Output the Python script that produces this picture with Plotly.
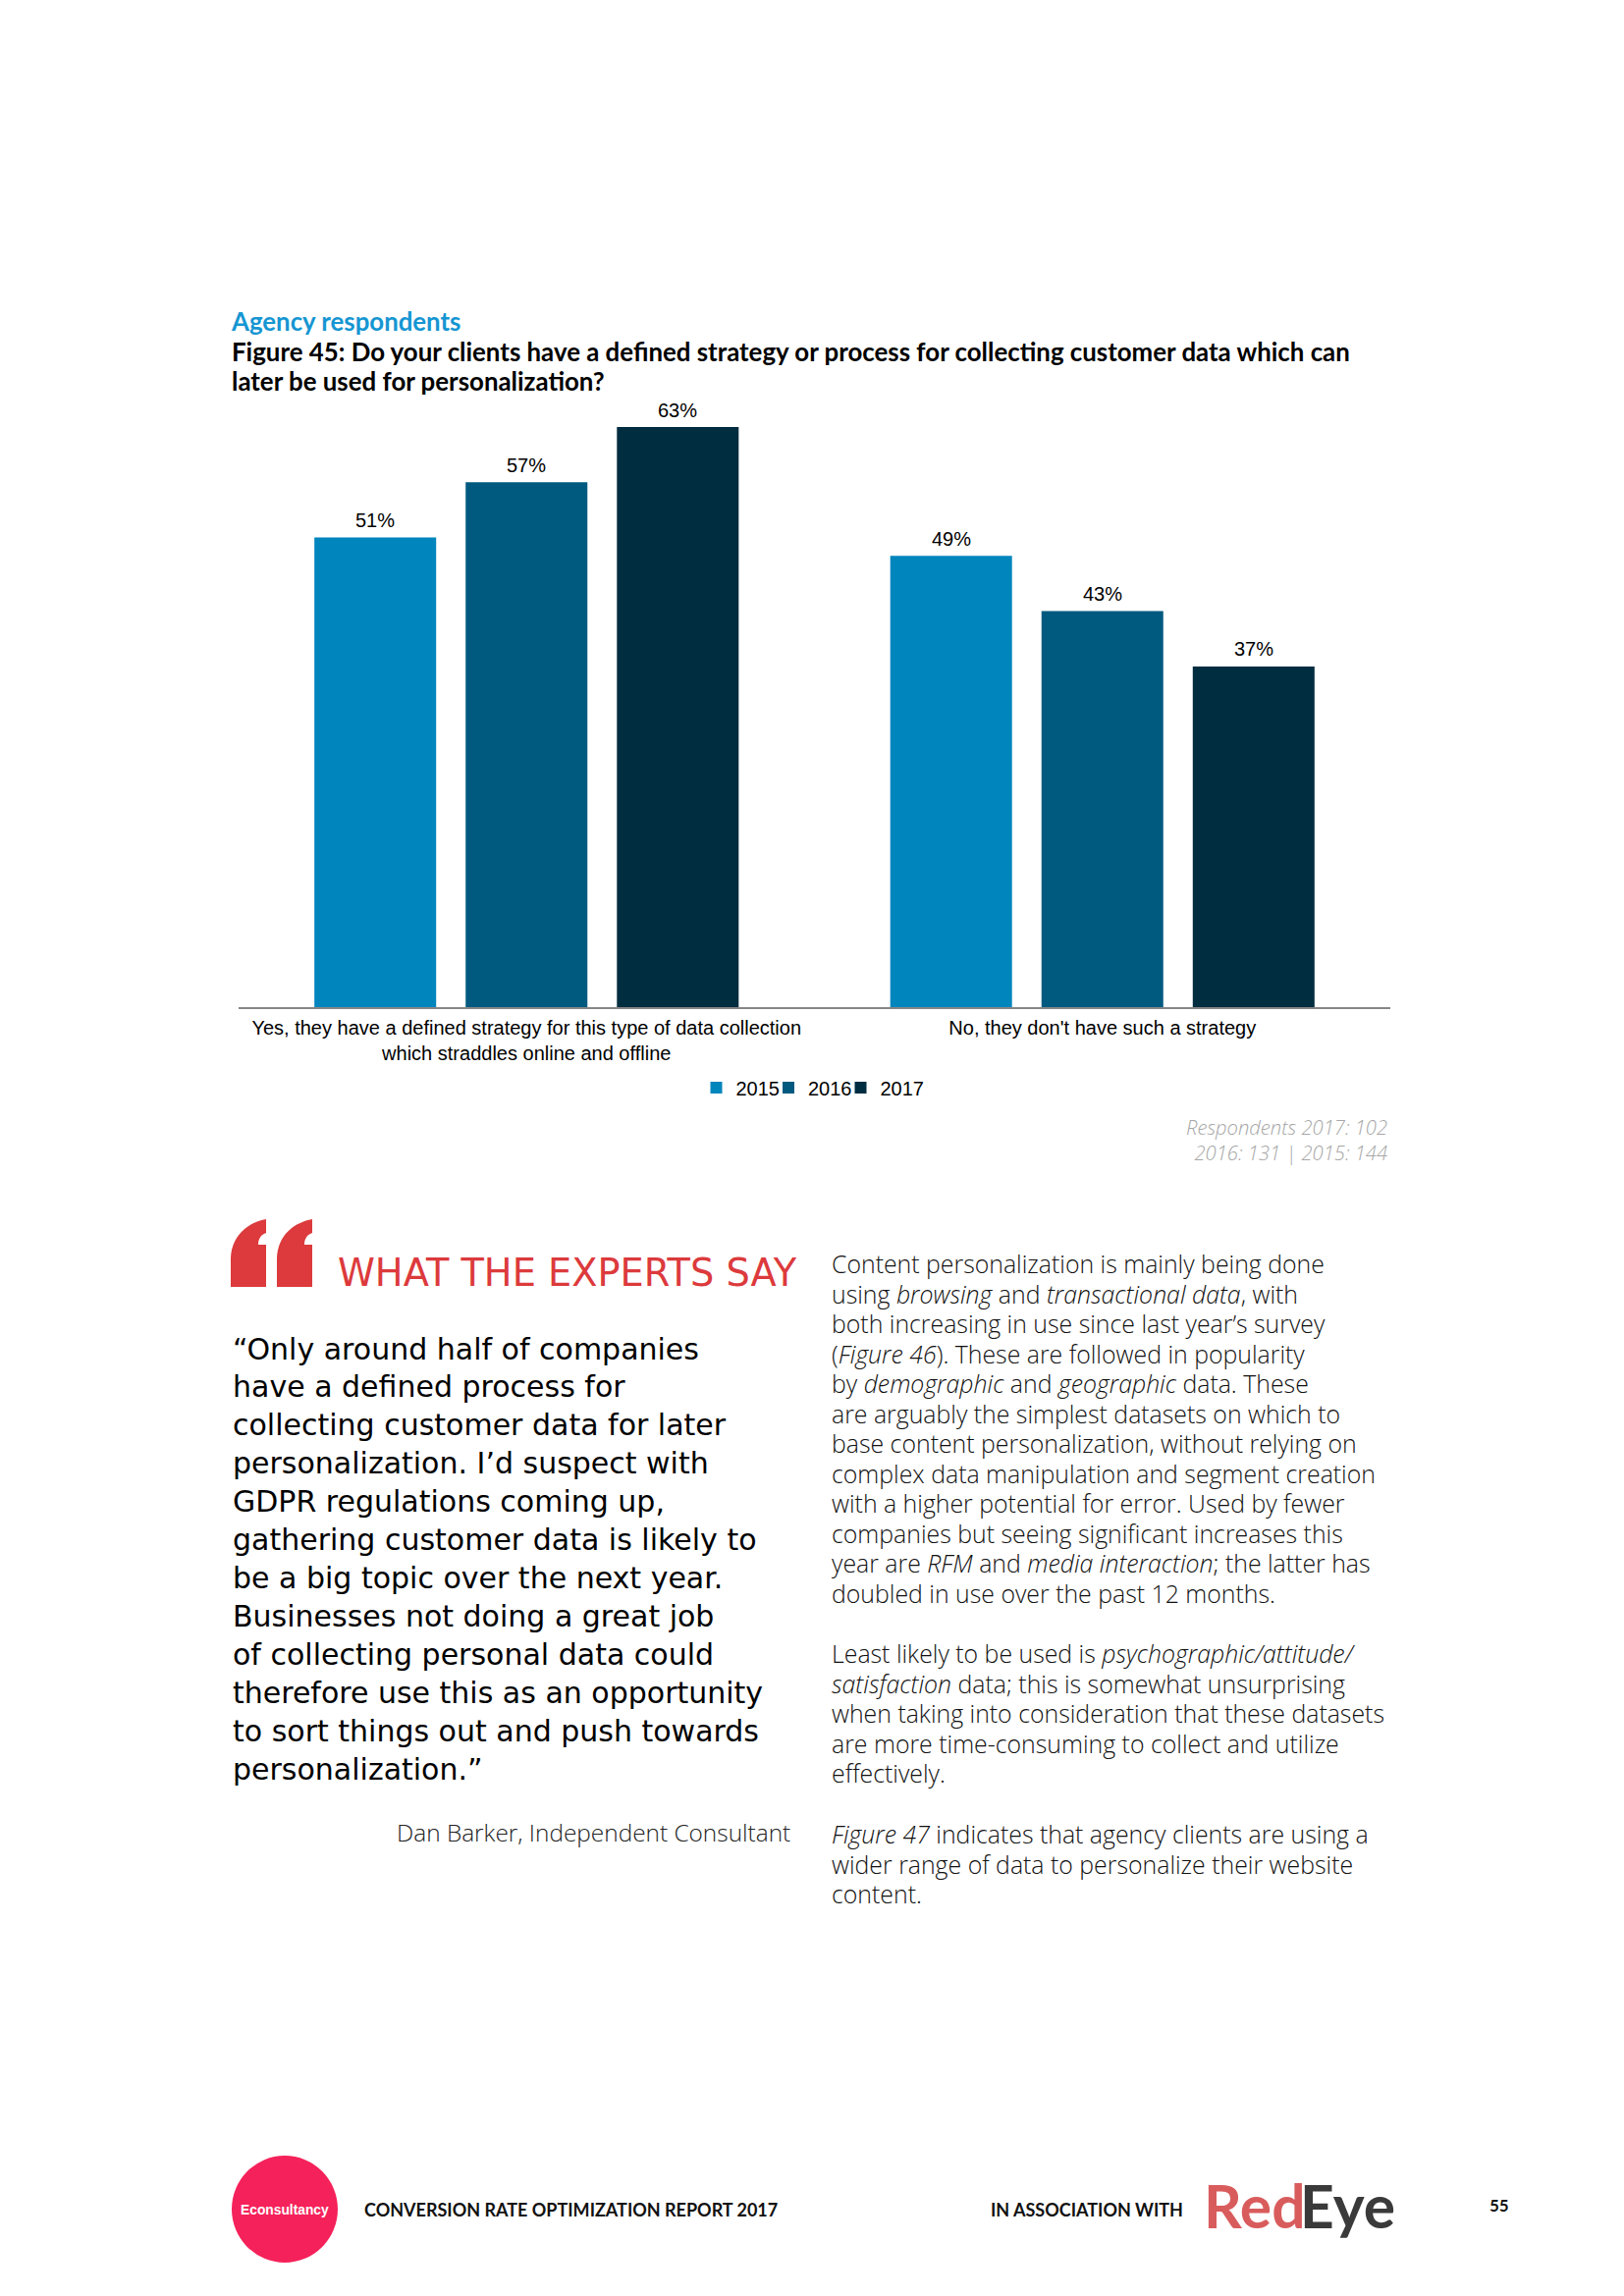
import plotly.graph_objects as go

W, H = 1654, 2339

# ---- chart data ----
categories = [
    "Yes, they have a defined strategy for this type of data collection<br>which straddles online and offline",
    "No, they don't have such a strategy",
]
years = ["2015", "2016", "2017"]
values_2015 = [51, 49]
values_2016 = [57, 43]
values_2017 = [63, 37]
series_values = [values_2015, values_2016, values_2017]
series_colors = ["#0085BD", "#005A80", "#002D40"]

# ---- page text ----
section_label = "Agency respondents"
title_lines = [
    "Figure 45: Do your clients have a defined strategy or process for collecting customer data which can",
    "later be used for personalization?",
]
respondent_lines = ["Respondents 2017: 102", "2016: 131 | 2015: 144"]
quote_head = "WHAT THE EXPERTS SAY"
quote_lines = [
    "“Only around half of companies",
    "have a defined process for",
    "collecting customer data for later",
    "personalization. I’d suspect with",
    "GDPR regulations coming up,",
    "gathering customer data is likely to",
    "be a big topic over the next year.",
    "Businesses not doing a great job",
    "of collecting personal data could",
    "therefore use this as an opportunity",
    "to sort things out and push towards",
    "personalization.”",
]
quote_author = "Dan Barker, Independent Consultant"
body_para_1 = [
    "Content personalization is mainly being done",
    "using <i>browsing</i> and <i>transactional data</i>, with",
    "both increasing in use since last year’s survey",
    "(<i>Figure 46</i>). These are followed in popularity",
    "by <i>demographic</i> and <i>geographic</i> data. These",
    "are arguably the simplest datasets on which to",
    "base content personalization, without relying on",
    "complex data manipulation and segment creation",
    "with a higher potential for error. Used by fewer",
    "companies but seeing significant increases this",
    "year are <i>RFM</i> and <i>media interaction</i>; the latter has",
    "doubled in use over the past 12 months.",
]
body_para_2 = [
    "Least likely to be used is <i>psychographic/attitude/</i>",
    "<i>satisfaction</i> data; this is somewhat unsurprising",
    "when taking into consideration that these datasets",
    "are more time-consuming to collect and utilize",
    "effectively.",
]
body_para_3 = [
    "<i>Figure 47</i> indicates that agency clients are using a",
    "wider range of data to personalize their website",
    "content.",
]


def px(x):
    return x / W


def py(y):
    return 1 - y / H


annotations = []


def text(s, x, y, size, color="#000000", family="Open Sans", weight=None, anchor="left"):
    annotations.append(dict(
        text=s, x=px(x), y=py(y), xref="paper", yref="paper",
        xanchor=anchor, yanchor="middle", showarrow=False,
        font=dict(family=family, size=size, color=color, weight=weight),
    ))


fig = go.Figure()
legend_ids = ["legend", "legend2", "legend3"]
for year, vals, col, lid in zip(years, series_values, series_colors, legend_ids):
    fig.add_bar(name=year, x=categories, y=vals, marker_color=col, marker_line_width=0,
                legend=lid)

# value labels, anchored to the data
for j, vals in enumerate(series_values):
    for i, v in enumerate(vals):
        annotations.append(dict(
            x=i, y=v, xref="x", yref="y", text=f"{v}%", showarrow=False,
            xshift=(j - 1) * 154, yshift=4.5, yanchor="bottom",
            font=dict(family="Liberation Sans", size=20, color="#000000"),
        ))

# page text
text(section_label, 233, 327, 25.8, "#1696D2", "Lato", 700)
for s, y in zip(title_lines, [358, 388]):
    text(s, 234, y, 25.85, "#000000", "Lato", 700)
annotations.append(dict(
    text="<br>".join(f"<i>{s}</i>" for s in respondent_lines),
    x=px(1415), y=py(1161.5), xref="paper", yref="paper", align="right",
    xanchor="right", yanchor="middle", showarrow=False,
    font=dict(family="Open Sans", size=20.2, color="#A6A6A6", weight=300),
))

text(quote_head, 342, 1296, 38.3, "#DC3A3C", "DejaVu Sans", 400)
for k, s in enumerate(quote_lines):
    text(s, 235, 1374 + k * 38.95, 30, "#000000", "DejaVu Sans", 400)
text(quote_author, 807, 1866, 24.4, "#222222", "Open Sans", 300, "right")

for k, s in enumerate(body_para_1):
    text(s, 845, 1287 + k * 30.5, 24.85, "#111111", "Open Sans", 300)
for k, s in enumerate(body_para_2):
    text(s, 845, 1684 + k * 30.5, 24.85, "#111111", "Open Sans", 300)
for k, s in enumerate(body_para_3):
    text(s, 845, 1868 + k * 30.5, 24.85, "#111111", "Open Sans", 300)

# footer
text("Econsultancy", 290, 2251, 13.8, "#FFFFFF", "Liberation Sans", 700, "center")
text("CONVERSION RATE OPTIMIZATION REPORT 2017", 369, 2251, 18, "#111111", "Lato", 700)
text("IN ASSOCIATION WITH", 1007, 2251, 18, "#111111", "Lato", 700)
text("Red", 1224, 2246, 60.5, "#D95C5C", "Lato", 700)
text("Eye", 1322, 2246, 60.5, "#3A3A3A", "Lato", 700)
text("55", 1515, 2246, 17, "#111111", "Lato", 700)


def slab(x0, x1):
    pts = (
        f"M{px(x0)},{py(1311)} L{px(x0)},{py(1283)} "
        f"C{px(x0)},{py(1262)} {px(x0+14)},{py(1246)} {px(x1)},{py(1242)} "
        f"L{px(x1)},{py(1256)} C{px(x1-6)},{py(1258)} {px(x1-8)},{py(1263)} {px(x1-8)},{py(1268)} "
        f"L{px(x1)},{py(1268)} L{px(x1)},{py(1311)} Z"
    )
    return dict(type="path", xref="paper", yref="paper", path=pts,
                fillcolor="#DC3A3C", line_width=0, layer="below")


shapes = [
    slab(235, 271),
    slab(282, 318),
    dict(type="circle", xref="paper", yref="paper", x0=px(236), x1=px(344),
         y0=py(2305), y1=py(2196), fillcolor="#F5215A", line_width=0, layer="below"),
]

PLOT_TOP, PLOT_BOTTOM = 400, 1026
PX_PER_PCT = (1026 - 435) / 63


def legend_at(x):
    return dict(
        x=px(x), y=py(1108), xanchor="left", yanchor="middle",
        itemclick=False, itemdoubleclick=False, bgcolor="rgba(0,0,0,0)",
        font=dict(family="Liberation Sans", size=20, color="#000000"),
    )


fig.update_layout(
    width=W, height=H, autosize=False,
    margin=dict(l=0, r=0, t=0, b=0),
    paper_bgcolor="#FFFFFF", plot_bgcolor="#FFFFFF",
    barmode="group", bargap=0.212, bargroupgap=0.195,
    annotations=annotations, shapes=shapes,
    font=dict(family="Liberation Sans", size=20, color="#000000"),
    legend=legend_at(709.5),
    legend2=legend_at(783),
    legend3=legend_at(856.5),
    showlegend=True,
    xaxis=dict(
        domain=[px(243), px(1416)], showline=True, linecolor="#868686", linewidth=2,
        ticks="outside", ticklen=2, tickcolor="rgba(255,255,255,0)", showgrid=False, zeroline=False,
        tickfont=dict(family="Liberation Sans", size=20, color="#000000"),
    ),
    yaxis=dict(
        domain=[py(PLOT_BOTTOM), py(PLOT_TOP)],
        range=[0, (PLOT_BOTTOM - PLOT_TOP) / PX_PER_PCT],
        visible=False,
    ),
)

fig.write_html("out.html", config=dict(displayModeBar=False),
               post_script="document.body.style.margin='0';")
